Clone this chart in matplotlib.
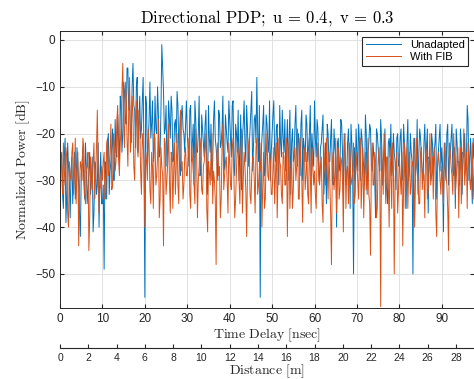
import numpy as np
import matplotlib
matplotlib.use('Agg')
import matplotlib.pyplot as plt

plt.rcParams['mathtext.fontset'] = 'cm'
plt.rcParams['font.family'] = ['Liberation Sans', 'DejaVu Sans']

dt = 0.4

unadapted = [
    -30, -24, -36, -21, -33, -27, -38, -25, -29, -34, -23, -31, -42, -26, -30, -22, -35, -28, -33, -25, -37, -27, -31, -40, -24,
    -35, -49, -28, -22, -33, -26, -19, -30, -24, -16, -27, -14, -20, -11, -18, -6, -13, -22, -5, -15, -10, -24, -12, -19, -8,
    -55, -14, -22, -9, -18, -26, -12, -20, -16, -24, -1, -11, -19, -27, -13, -21, -15, -25, -17, -11, -23, -29, -14, -20, -18,
    -20, -27, -14, -22, -31, -17, -24, -12, -28, -19, -25, -15, -33, -21, -18, -26, -13, -23, -30, -16, -22, -12, -27, -19, -24,
    -17, -25, -13, -29, -20, -15, -24, -32, -18, -22, -14, -27, -19, -11, -23, -16, -8, -26, -55, -21, -14, -28, -18, -24, -30,
    -20, -13, -26, -18, -31, -22, -15, -24, -28, -17, -21, -33, -19, -25, -14, -27, -22, -18, -30, -23, -16, -26, -20, -29, -24,
    -13, -25, -19, -30, -22, -16, -28, -35, -20, -26, -17, -31, -23, -40, -21, -27, -18, -33, -24, -29, -19, -36, -22, -50, -30,
    -24, -18, -30, -21, -27, -16, -33, -22, -19, -28, -25, -38, -20, -26, -17, -31, -23, -29, -35, -21, -18, -27, -24, -32, -20,
    -26, -19, -30, -22, -36, -17, -28, -24, -50, -21, -27, -33, -19, -25, -30, -18, -23, -37, -26, -20, -29, -22, -34, -24, -18,
    -23, -41, -27, -20, -31, -24, -18, -29, -36, -22, -26, -19, -33, -25, -28, -14, -30, -21, -35, -25,
]
unadapted_mid = [
    -27, -33, -25, -39, -22, -30, -28, -35, -24, -31, -26, -37, -29, -23, -34, -27, -32, -24, -30, -41, -26, -33, -22, -29, -35,
    -31, -26, -34, -20, -28, -23, -30, -17, -25, -21, -12, -24, -9, -17, -6, -15, -20, -10, -14, -23, -8, -17, -21, -13, -25,
    -12, -27, -17, -21, -13, -23, -19, -10, -25, -15, -6, -20, -14, -23, -17, -12, -26, -18, -22, -14, -27, -16, -19, -24, -13,
    -23, -15, -26, -18, -13, -24, -20, -29, -16, -22, -18, -27, -14, -24, -30, -17, -21, -26, -15, -23, -19, -28, -16, -22, -13,
    -21, -14, -27, -18, -24, -30, -16, -21, -13, -26, -19, -23, -15, -28, -17, -22, -20, -14, -25, -18, -29, -16, -22, -13, -24,
    -16, -24, -19, -28, -14, -25, -21, -17, -23, -30, -15, -22, -26, -18, -24, -20, -29, -15, -21, -26, -18, -23, -14, -20, -27,
    -21, -17, -28, -23, -19, -33, -22, -18, -26, -21, -30, -19, -25, -22, -28, -17, -24, -20, -31, -22, -26, -18, -29, -23, -19,
    -28, -22, -19, -25, -31, -20, -24, -18, -27, -22, -30, -19, -23, -28, -21, -26, -19, -32, -22, -25, -29, -20, -26, -21, -27,
    -21, -28, -18, -25, -22, -30, -20, -26, -23, -29, -17, -24, -21, -28, -22, -26, -19, -25, -30, -22, -24, -18, -27, -21, -28,
    -27, -22, -30, -18, -25, -21, -28, -23, -19, -26, -31, -22, -24, -20, -27, -17, -25, -29, -21, -26,
]

with_fib = [
    -36, -27, -22, -31, -25, -40, -29, -24, -33, -21, -28, -44, -26, -30, -23, -35, -27, -45, -25, -32, -22, -29, -15, -37, -31,
    -30, -24, -33, -21, -27, -18, -31, -22, -26, -14, -29, -19, -5, -23, -12, -27, -8, -20, -16, -30, -13, -25, -18, -33, -22,
    -40, -26, -19, -32, -24, -36, -21, -29, -17, -34, -27, -44, -22, -30, -18, -37, -25, -28, -33, -20, -35, -15, -26, -31, -23,
    -29, -21, -36, -25, -31, -19, -38, -27, -23, -33, -26, -20, -41, -28, -24, -35, -30, -48, -22, -27, -34, -18, -29, -25, -37,
    -26, -32, -21, -38, -28, -24, -35, -19, -30, -27, -42, -23, -33, -29, -25, -37, -21, -31, -28, -40, -24, -34, -20, -30, -26,
    -33, -23, -29, -38, -21, -27, -35, -25, -31, -42, -22, -28, -36, -24, -30, -19, -34, -26, -39, -23, -29, -33, -21, -37, -27,
    -28, -36, -22, -31, -25, -39, -27, -21, -34, -30, -48, -24, -29, -37, -23, -32, -26, -41, -20, -28, -35, -25, -30, -22, -33,
    -27, -34, -21, -30, -38, -24, -29, -33, -46, -22, -31, -26, -36, -23, -57, -28, -20, -35, -25, -40, -29, -22, -50, -27, -37,
    -25, -33, -44, -22, -29, -36, -24, -31, -27, -40, -21, -30, -35, -23, -28, -38, -25, -32, -20, -29, -34, -26, -42, -24, -30,
    -27, -35, -22, -31, -45, -24, -29, -20, -33, -26, -38, -23, -30, -19, -28, -36, -25, -32, -22, -29,
]
with_fib_mid = [
    -25, -33, -28, -23, -37, -26, -30, -22, -29, -35, -24, -31, -27, -21, -33, -28, -24, -38, -30, -26, -34, -23, -28, -32, -27,
    -26, -34, -22, -29, -24, -32, -20, -28, -17, -25, -22, -11, -18, -9, -21, -15, -24, -12, -27, -19, -23, -15, -28, -20, -26,
    -24, -30, -22, -35, -27, -20, -31, -25, -38, -23, -29, -21, -33, -26, -30, -24, -36, -22, -27, -31, -19, -28, -34, -25, -29,
    -25, -33, -22, -28, -35, -24, -30, -21, -32, -27, -23, -36, -26, -31, -20, -28, -34, -24, -29, -38, -23, -32, -26, -30, -22,
    -31, -23, -29, -34, -22, -30, -26, -37, -24, -32, -28, -21, -35, -25, -30, -23, -33, -27, -22, -31, -36, -25, -29, -24, -33,
    -28, -35, -22, -30, -26, -33, -24, -31, -21, -29, -36, -25, -32, -23, -27, -34, -21, -30, -26, -32, -24, -35, -28, -23, -31,
    -33, -25, -30, -27, -35, -22, -31, -28, -24, -37, -26, -32, -21, -29, -34, -25, -30, -23, -36, -27, -22, -31, -28, -35, -24,
    -30, -25, -36, -23, -29, -32, -21, -35, -27, -31, -24, -38, -26, -30, -22, -33, -28, -25, -31, -23, -36, -27, -30, -24, -32,
    -29, -24, -31, -36, -23, -28, -33, -26, -21, -30, -27, -35, -24, -32, -29, -22, -34, -27, -31, -25, -23, -37, -28, -26, -33,
    -31, -24, -29, -36, -22, -27, -33, -25, -30, -23, -28, -35, -26, -31, -24, -22, -30, -27, -34, -25,
]

t = np.column_stack([np.arange(len(unadapted)) * dt,
                     np.arange(len(unadapted)) * dt + dt / 2]).ravel()
blue = np.column_stack([unadapted, unadapted_mid]).ravel()
orange = np.column_stack([with_fib, with_fib_mid]).ravel()

fig = plt.figure(figsize=(4.74, 3.79), dpi=100)
ax = fig.add_axes([0.1266, 0.187, 0.8734, 0.731])

ax.plot(t, blue, color='#0072BD', lw=0.7, label='Unadapted')
ax.plot(t, orange, color='#D95319', lw=0.7, label='With FIB')

ax.set_xlim(0, 97.6)
ax.set_ylim(-57.3, 1.9)
ax.set_xticks(np.arange(0, 100, 10))
ax.set_yticks(np.arange(-50, 1, 10))
ax.grid(True, color='#dcdcdc', lw=0.6)
ax.tick_params(direction='in', top=True, right=True, labelsize=8.5,
               colors='#262626', length=3)
for s in ax.spines.values():
    s.set_color('#262626')
    s.set_linewidth(0.7)

ax.set_title(r'$\mathrm{Directional\ PDP;\ u\,=\,0.4,\ v\,=\,0.3}$', fontsize=12, pad=6)
ax.set_xlabel(r'$\mathrm{Time\ Delay\ [nsec]}$', fontsize=10, labelpad=1, color='#262626')
ax.set_ylabel(r'$\mathrm{Normalized\ Power\ [dB]}$', fontsize=10, labelpad=2, color='#262626')

sec = ax.secondary_xaxis(-0.144, functions=(lambda x: x * 0.3, lambda d: d / 0.3))
sec.set_xticks(np.arange(0, 30, 2))
sec.tick_params(direction='in', labelsize=7.5, colors='#262626', length=3)
sec.spines['bottom'].set_color('#262626')
sec.set_xlabel(r'$\mathrm{Distance\ [m]}$', fontsize=10, labelpad=0, color='#262626')

leg = ax.legend(loc='upper right', fontsize=8, fancybox=False, framealpha=1,
                edgecolor='#262626', borderpad=0.3, handlelength=3.2,
                labelspacing=0.2, borderaxespad=0.5)
leg.get_frame().set_linewidth(0.8)

fig.savefig('out.png', dpi=100)
